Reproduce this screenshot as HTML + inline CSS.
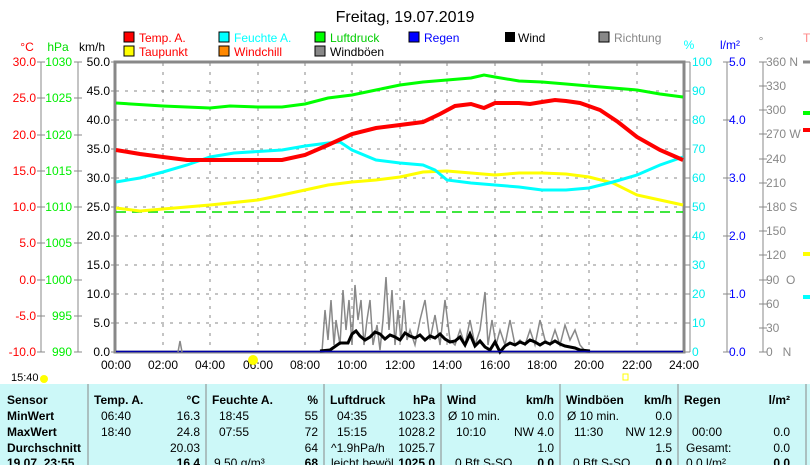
<!DOCTYPE html>
<html><head><meta charset="utf-8"><style>
body{margin:0;background:#fff;width:810px;height:465px;overflow:hidden;font-family:"Liberation Sans",sans-serif}
svg{position:absolute;left:0;top:0}
text{font-family:"Liberation Sans",sans-serif}
</style></head><body>
<svg width="810" height="465" viewBox="0 0 810 465" font-size="12">
<text x="405" y="22" font-size="16" text-anchor="middle">Freitag, 19.07.2019</text>
<!-- legend -->
<g font-size="12">
<rect x="124" y="32" width="10" height="10" fill="#f00" stroke="#000"/><text x="139" y="42" fill="#f00">Temp. A.</text>
<rect x="124" y="46" width="10" height="10" fill="#ff0" stroke="#000"/><text x="139" y="56" fill="#f00">Taupunkt</text>
<rect x="219" y="32" width="10" height="10" fill="#0ff" stroke="#000"/><text x="234" y="42" fill="#0ff">Feuchte A.</text>
<rect x="219" y="46" width="10" height="10" fill="#f80" stroke="#000"/><text x="234" y="56" fill="#f00">Windchill</text>
<rect x="315" y="32" width="10" height="10" fill="#0f0" stroke="#000"/><text x="330" y="42" fill="#0c0">Luftdruck</text>
<rect x="315" y="46" width="10" height="10" fill="#888" stroke="#000"/><text x="330" y="56">Windböen</text>
<rect x="409" y="32" width="10" height="10" fill="#00f" stroke="#000"/><text x="424" y="42" fill="#00f">Regen</text>
<rect x="505" y="32" width="10" height="10" fill="#000"/><text x="518" y="42">Wind</text>
<rect x="599" y="32" width="10" height="10" fill="#888" stroke="#000"/><text x="614" y="42" fill="#888">Richtung</text>
</g>
<text x="27" y="51" fill="#f00" text-anchor="middle">°C</text>
<text x="58" y="51" fill="#0d0" text-anchor="middle">hPa</text>
<text x="92" y="51" text-anchor="middle">km/h</text>
<text x="689" y="49" fill="#0ff" text-anchor="middle">%</text>
<text x="730" y="49" fill="#00f" text-anchor="middle">l/m²</text>
<text x="761" y="45" fill="#888" text-anchor="middle">°</text>
<!-- grid -->
<g stroke="#888" stroke-dasharray="3,6" stroke-width="1">
<path d="M116 91H683M116 120H683M116 149H683M116 178H683M116 207H683M116 236H683M116 265H683M116 294H683M116 323H683"/>
<path d="M163 63V351M210 63V351M258 63V351M305 63V351M352 63V351M400 63V351M447 63V351M495 63V351M542 63V351M589 63V351M637 63V351"/>
</g>
<rect x="115" y="62" width="569" height="290" fill="none" stroke="#888" stroke-width="3"/>
<!-- axes -->
<g stroke="#888"><path d="M41 62V352M78 62V352M690 62V352M727 62V352M763 62V352"/>
<path d="M37 62h8M37 98h8M37 135h8M37 171h8M37 207h8M37 243h8M37 280h8M37 316h8M37 352h8"/>
<path d="M74 62h8M74 98h8M74 135h8M74 171h8M74 207h8M74 243h8M74 280h8M74 316h8M74 352h8"/>
<path d="M111 62h4M111 91h4M111 120h4M111 149h4M111 178h4M111 207h4M111 236h4M111 265h4M111 294h4M111 323h4M111 352h4"/>
<path d="M684 62h6M684 91h6M684 120h6M684 149h6M684 178h6M684 207h6M684 236h6M684 265h6M684 294h6M684 323h6M684 352h6"/>
<path d="M723 62h8M723 120h8M723 178h8M723 236h8M723 294h8M723 352h8"/>
<path d="M759 62h8M759 86h8M759 110h8M759 134h8M759 159h8M759 183h8M759 207h8M759 231h8M759 255h8M759 280h8M759 304h8M759 328h8M759 352h8"/>
</g>
<g fill="#f00" text-anchor="end"><text x="36" y="66">30.0</text><text x="36" y="102">25.0</text><text x="36" y="139">20.0</text><text x="36" y="175">15.0</text><text x="36" y="211">10.0</text><text x="36" y="247">5.0</text><text x="36" y="284">0.0</text><text x="36" y="320">-5.0</text><text x="36" y="356">-10.0</text></g>
<g fill="#0e0" text-anchor="end"><text x="72" y="66">1030</text><text x="72" y="102">1025</text><text x="72" y="139">1020</text><text x="72" y="175">1015</text><text x="72" y="211">1010</text><text x="72" y="247">1005</text><text x="72" y="284">1000</text><text x="72" y="320">995</text><text x="72" y="356">990</text></g>
<g text-anchor="end"><text x="110" y="66">50.0</text><text x="110" y="95">45.0</text><text x="110" y="124">40.0</text><text x="110" y="153">35.0</text><text x="110" y="182">30.0</text><text x="110" y="211">25.0</text><text x="110" y="240">20.0</text><text x="110" y="269">15.0</text><text x="110" y="298">10.0</text><text x="110" y="327">5.0</text><text x="110" y="356">0.0</text></g>
<g fill="#0ee"><text x="692" y="66">100</text><text x="692" y="95">90</text><text x="692" y="124">80</text><text x="692" y="153">70</text><text x="692" y="182">60</text><text x="692" y="211">50</text><text x="692" y="240">40</text><text x="692" y="269">30</text><text x="692" y="298">20</text><text x="692" y="327">10</text><text x="692" y="356">0</text></g>
<g fill="#00f"><text x="729" y="66">5.0</text><text x="729" y="124">4.0</text><text x="729" y="182">3.0</text><text x="729" y="240">2.0</text><text x="729" y="298">1.0</text><text x="729" y="356">0.0</text></g>
<g fill="#888"><text x="766" y="66">360 N</text><text x="766" y="90">330</text><text x="766" y="114">300</text><text x="766" y="138">270 W</text><text x="766" y="163">240</text><text x="766" y="187">210</text><text x="766" y="211">180 S</text><text x="766" y="235">150</text><text x="766" y="259">120</text><text x="766" y="284">90&#160;&#160;O</text><text x="766" y="308">60</text><text x="766" y="332">30</text><text x="766" y="356">0&#160;&#160;&#160;N</text></g>
<path d="M803 62h7" stroke="#888" stroke-width="3"/>
<text x="803" y="42" fill="#f88">T</text>
<path d="M803 113h7" stroke="#0f0" stroke-width="4"/><path d="M803 130h7" stroke="#f00" stroke-width="4"/><path d="M803 254h7" stroke="#ff0" stroke-width="4"/><path d="M803 297h7" stroke="#0ff" stroke-width="4"/>
<!-- x labels -->
<g text-anchor="middle"><text x="116" y="369">00:00</text><text x="163" y="369">02:00</text><text x="210" y="369">04:00</text><text x="258" y="369">06:00</text><text x="305" y="369">08:00</text><text x="352" y="369">10:00</text><text x="400" y="369">12:00</text><text x="447" y="369">14:00</text><text x="495" y="369">16:00</text><text x="542" y="369">18:00</text><text x="589" y="369">20:00</text><text x="637" y="369">22:00</text><text x="684" y="369">24:00</text></g>
<text x="11" y="381" font-size="11">15:40</text><circle cx="44" cy="379" r="4" fill="#ff0"/>
<circle cx="253" cy="360" r="5" fill="#ff0"/><rect x="623" y="374" width="5" height="6" fill="none" stroke="#ff0"/>
<!-- series -->
<path d="M116 212H683" stroke="#0d0" stroke-dasharray="10,6" stroke-width="1.5"/>
<polyline fill="none" stroke="#888" stroke-width="1.5" points="322,352 325,310 328,340 331,300 334,345 336,320 340,345 343,290 346,330 349,300 352,345 355,285 358,320 361,300 364,345 367,320 370,300 373,345 377,325 380,350 383,320 386,277 389,330 392,290 395,345 398,310 401,340 404,300 407,340 410,330 415,345 420,320 425,300 430,340 435,315 440,345 445,300 450,340 455,345 460,330 465,345 470,320 475,345 480,330 485,292 488,345 492,320 496,345 500,330 505,345 510,320 515,345 520,340 525,345 530,330 535,345 540,320 545,340 550,345 555,330 560,345 565,325 570,340 575,330 580,345 586,352"/>
<polyline fill="none" stroke="#000" stroke-width="3" points="320,351 330,350 340,343 348,343 352,334 356,331 360,336 365,340 370,337 375,332 380,334 385,339 390,335 395,337 400,340 405,333 410,336 415,338 420,335 425,340 430,336 435,338 440,334 445,339 450,342 455,341 460,337 465,345 470,334 475,346 480,341 485,347 490,350 495,342 500,352 505,346 510,343 515,345 520,342 525,344 530,340 535,342 540,345 545,342 550,344 555,341 560,344 565,346 570,347 575,348 580,350 590,351"/>
<path d="M116 351.5H683" stroke="#00a" stroke-width="1.5"/>
<polyline fill="none" stroke="#0f0" stroke-width="3" points="116,103 163,106 210,108 230,106 258,107 282,107 305,104 328,98 352,95 376,90 400,85 423,82 447,80 471,78 484,75 495,77 519,81 542,82 566,84 589,86 613,88 637,90 660,94 683,97"/>
<polyline fill="none" stroke="#ff0" stroke-width="3" points="116,208 140,211 163,209 210,205 258,200 282,195 305,190 328,185 352,182 376,180 400,177 423,172 447,171 471,173 495,175 519,173 542,173 566,174 589,177 613,183 637,195 660,200 683,205"/>
<polyline fill="none" stroke="#0ff" stroke-width="3" points="116,182 140,178 163,172 187,165 210,157 234,153 282,150 305,146 328,143 340,142 352,150 376,160 400,163 423,165 435,170 447,180 471,183 495,185 519,187 542,190 566,190 589,188 613,182 637,175 660,165 683,157"/>
<polyline fill="none" stroke="#f00" stroke-width="4" points="116,150 140,154 163,157 187,160 210,160 282,160 305,155 328,145 352,134 376,128 400,125 423,122 440,114 455,106 471,104 484,108 495,103 519,103 530,104 542,102 555,100 566,101 580,103 600,110 618,122 637,137 660,150 683,160"/>
<polyline fill="none" stroke="#888" stroke-width="1.5" points="178,352 180,341 182,352"/>
</svg>
<div style="position:absolute;left:0;top:384px;width:810px;height:81px;background:#ccf8f8"></div>
<svg width="810" height="465" viewBox="0 0 810 465" style="position:absolute;left:0;top:0" font-size="12">
<g stroke="#888"><path d="M88 384V465M206 384V465M324 384V465M441 384V465M560 384V465M678 384V465M806 384V465"/></g>
<g font-size="12" font-weight="bold"><text x="7" y="404">Sensor</text><text x="7" y="420">MinWert</text><text x="7" y="436">MaxWert</text><text x="7" y="452">Durchschnitt</text><text x="7" y="467">19.07. 23:55</text>
<text x="94" y="404">Temp. A.</text><text x="212" y="404">Feuchte A.</text><text x="330" y="404">Luftdruck</text><text x="447" y="404">Wind</text><text x="566" y="404">Windböen</text><text x="684" y="404">Regen</text>
<g text-anchor="end"><text x="200" y="404">°C</text><text x="318" y="404">%</text><text x="435" y="404">hPa</text><text x="554" y="404">km/h</text><text x="672" y="404">km/h</text><text x="790" y="404">l/m²</text>
<text x="200" y="467">16.4</text><text x="318" y="467">68</text><text x="435" y="467">1025.0</text><text x="554" y="467">0.0</text><text x="672" y="467">0.0</text><text x="790" y="467">0.0</text></g></g>
<g font-size="12"><text x="101" y="420">06:40</text><text x="101" y="436">18:40</text>
<text x="219" y="420">18:45</text><text x="219" y="436">07:55</text><text x="214" y="467">9.50 g/m³</text>
<text x="337" y="420">04:35</text><text x="337" y="436">15:15</text><text x="331" y="452">^1.9hPa/h</text><text x="331" y="467">leicht bewöl</text>
<text x="448" y="420">Ø 10 min.</text><text x="456" y="436">10:10</text><text x="455" y="467">0 Bft S-SO</text>
<text x="567" y="420">Ø 10 min.</text><text x="574" y="436">11:30</text><text x="573" y="467">0 Bft S-SO</text>
<text x="692" y="436">00:00</text><text x="686" y="452">Gesamt:</text><text x="686" y="467">0.0 l/m²</text>
<g text-anchor="end"><text x="200" y="420">16.3</text><text x="200" y="436">24.8</text><text x="200" y="452">20.03</text>
<text x="318" y="420">55</text><text x="318" y="436">72</text><text x="318" y="452">64</text>
<text x="435" y="420">1023.3</text><text x="435" y="436">1028.2</text><text x="435" y="452">1025.7</text>
<text x="554" y="420">0.0</text><text x="554" y="436">NW 4.0</text><text x="554" y="452">1.0</text>
<text x="672" y="420">0.0</text><text x="672" y="436">NW 12.9</text><text x="672" y="452">1.5</text>
<text x="790" y="436">0.0</text><text x="790" y="452">0.0</text></g></g>
</svg>
</body></html>
